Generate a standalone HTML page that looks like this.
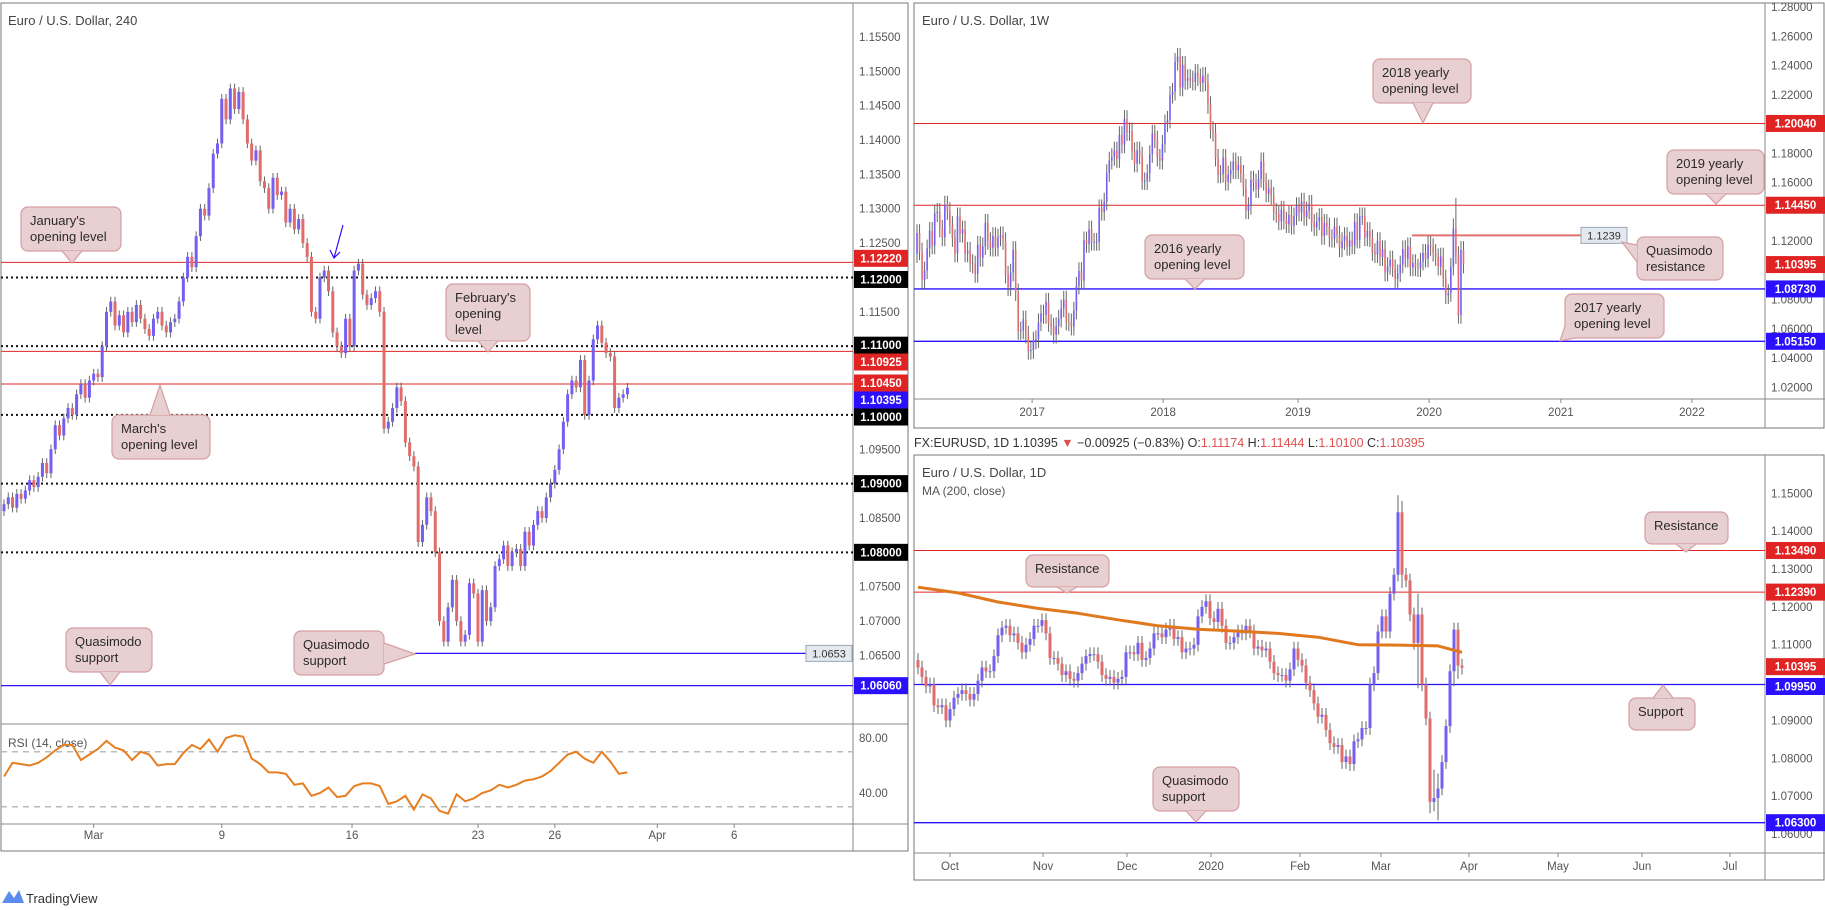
<!DOCTYPE html>
<html><head><meta charset="utf-8"><title>EURUSD charts</title>
<style>
html,body{margin:0;padding:0;background:#fff;}
svg{display:block;font-family:"Liberation Sans","DejaVu Sans",sans-serif;}
</style></head>
<body>
<svg id="chart" width="1825" height="910" viewBox="0 0 1825 910" xmlns="http://www.w3.org/2000/svg">
<rect x="0" y="0" width="1825" height="910" fill="#fff"/>
<defs>
<clipPath id="clipL"><rect x="1" y="3" width="852" height="721"/></clipPath>
<clipPath id="clipR"><rect x="1" y="724" width="852" height="100"/></clipPath>
<clipPath id="clipW"><rect x="914" y="3" width="851" height="396"/></clipPath>
<clipPath id="clipD"><rect x="914" y="455" width="851" height="398"/></clipPath>
</defs>
<g id="frames" fill="none">
<rect x="1" y="3" width="907" height="848" stroke="#777"/>
<line x1="853" y1="3" x2="853" y2="851" stroke="#888"/>
<line x1="1" y1="724" x2="908" y2="724" stroke="#888"/>
<line x1="1" y1="824" x2="908" y2="824" stroke="#888"/>
<rect x="914" y="3" width="910" height="425" stroke="#777"/>
<line x1="1765" y1="3" x2="1765" y2="428" stroke="#888"/>
<line x1="914" y1="399" x2="1825" y2="399" stroke="#888"/>
<rect x="914" y="455" width="910" height="425" stroke="#777"/>
<line x1="1765" y1="455" x2="1765" y2="880" stroke="#888"/>
<line x1="914" y1="853" x2="1825" y2="853" stroke="#888"/>
</g>
<text x="8" y="25" font-size="13" fill="#444">Euro / U.S. Dollar, 240</text>
<text x="8" y="747" font-size="12" fill="#555">RSI (14, close)</text>
<text x="922" y="25" font-size="13" fill="#444">Euro / U.S. Dollar, 1W</text>
<text x="922" y="477" font-size="13" fill="#444">Euro / U.S. Dollar, 1D</text>
<text x="922" y="495" font-size="12" fill="#555">MA (200, close)</text>
<text x="914" y="447" font-size="12.5" fill="#333">FX:EURUSD, 1D 1.10395 <tspan fill="#e05050">▼</tspan> −0.00925 (−0.83%) O:<tspan fill="#e05050">1.11174</tspan> H:<tspan fill="#e05050">1.11444</tspan> L:<tspan fill="#e05050">1.10100</tspan> C:<tspan fill="#e05050">1.10395</tspan></text>
<g>
<path d="M2 903 L9 891 L14 898 L19 890 L24 903 Z" fill="#5b8def"/>
<text x="26" y="903" font-size="13" fill="#333">TradingView</text>
</g>
<g id="gL" clip-path="url(#clipL)"></g>
<g id="gR" clip-path="url(#clipR)"></g>
<g id="gW" clip-path="url(#clipW)"></g>
<g id="gD" clip-path="url(#clipD)"></g>
<g id="gA"></g>
</svg>
<script>
// ---------- data: 4h chart ----------
const h4Closes=[1.0870,1.0880,1.0865,1.0885,1.0878,1.0890,1.0905,1.0895,1.0910,1.0930,1.0915,
1.0950,1.0985,1.0970,1.0995,1.1010,1.1000,1.1030,
1.1045,1.1025,1.1050,1.1060,1.1055,
1.1100,1.1150,1.1165,1.1130,1.1145,
1.1120,1.1150,1.1135,1.1160,1.1140,1.1125,1.1115,1.1140,1.1150,1.1130,1.1120,1.1135,1.1140,
1.1165,1.1200,1.1230,1.1215,1.1260,1.1300,1.1290,1.1330,1.1380,1.1395,1.1460,
1.1430,1.1475,1.1445,1.1470,1.1430,1.1395,
1.1370,1.1385,1.1340,1.1330,1.1300,1.1345,1.1320,1.1325,1.1280,1.1300,1.1270,1.1285,1.1250,
1.1230,1.1150,1.1140,1.1200,1.1210,1.1180,1.1120,1.1100,
1.1090,1.1140,1.1100,1.1210,1.1220,1.1175,1.1160,1.1170,1.1180,1.1150,
1.0980,1.0990,1.1010,1.1040,1.1020,1.0960,1.0940,1.0925,
1.0815,1.0840,1.0880,1.0860,1.0800,1.0700,1.0670,
1.0720,1.0760,1.0700,1.0670,1.0680,1.0755,1.0740,1.0670,1.0745,
1.0700,1.0720,1.0780,1.0790,1.0810,1.0780,1.0800,1.0805,
1.0780,1.0830,1.0810,1.0840,1.0860,1.0850,1.0880,1.0900,
1.0920,1.0950,1.0990,1.1030,1.1050,1.1040,
1.1080,1.1000,1.1050,1.1110,1.1130,1.1105,1.1090,
1.1085,1.1010,1.1025,1.1030,1.10395];
const h4Open0=1.0860;
const rsiValues=[52,62,61,60,62,66,71,75,75,64,68,72,78,73,71,64,70,68,60,61,61,69,75,72,79,70,80,82,81,65,61,55,55,54,46,47,38,40,44,37,38,45,47,47,45,32,34,38,28,39,36,27,25,39,34,36,40,42,46,44,46,49,50,52,56,62,68,70,65,62,70,63,54,55];
const rsiStep=2;
const h4TickLabels=['Mar','9','16','23','26','Apr','6'];
const h4TickBars=[21,51,81.5,111,129,153,171];
const h4Levels=[1.1222,1.1200,1.1100,1.10925,1.1045,1.1000,1.0900,1.0800,1.0606];
const h4LevelKinds=['red','dot','dot','red','red','dot','dot','dot','blue'];
const h4Qm=1.0653;
const h4PriceTicks=[1.155,1.15,1.145,1.14,1.135,1.13,1.125,1.12,1.115,1.11,1.105,1.10,1.095,1.09,1.085,1.08,1.075,1.07,1.065,1.06];
const rsiTicks=[80,40];
const rsiBands=[70,30];

// ---------- data: weekly chart ----------
const wCloses=[1.1255,1.1130,1.0935,1.1000,1.1150,1.1270,1.1170,1.1390,1.1400,1.1285,1.1225,1.1450,1.1405,1.1310,1.1220,1.1115,1.1370,1.1250,1.1280,1.1115,1.1135,1.1050,1.1040,1.0975,1.1175,1.1085,1.1165,1.1325,1.1200,1.1155,1.1235,1.1155,1.1225,1.1240,1.1200,1.0970,1.0885,1.0985,1.1140,1.0850,1.0585,1.0590,1.0665,1.0560,1.0450,1.0455,1.0520,
1.0530,1.0645,1.0705,1.0695,1.0785,1.0640,1.0615,1.0560,1.0620,1.0670,1.0740,1.0800,1.0650,1.0645,1.0615,1.0725,1.0895,1.0995,1.0930,1.1205,1.1180,1.1280,1.1195,1.1195,1.1195,1.1425,1.1400,1.1470,1.1665,1.1750,1.1775,1.1820,1.1760,1.1925,1.1860,1.2035,1.1945,1.1950,1.1815,1.1730,1.1820,1.1785,1.1610,1.1610,1.1665,1.1795,1.1935,1.1895,1.1770,1.1750,1.1865,1.2005,
1.2030,1.2200,1.2220,1.2425,1.2460,1.2250,1.2405,1.2295,1.2315,1.2305,1.2290,1.2350,1.2320,1.2280,1.2330,1.2285,1.2130,1.1960,1.1940,1.1770,1.1655,1.1660,1.1770,1.1605,1.1655,1.1685,1.1745,1.1685,1.1720,1.1660,1.1565,1.1410,1.1440,1.1620,1.1600,1.1555,1.1625,1.1745,1.1605,1.1525,1.1560,1.1510,1.1400,1.1385,1.1335,1.1415,1.1340,1.1315,1.1380,1.1305,1.1370,1.1440,
1.1395,1.1470,1.1365,1.1410,1.1455,1.1325,1.1295,1.1335,1.1365,1.1235,1.1325,1.1300,1.1220,1.1215,1.1300,1.1245,1.1150,1.1200,1.1235,1.1160,1.1205,1.1170,1.1330,1.1210,1.1370,1.1370,1.1225,1.1270,1.1220,1.1125,1.1110,1.1200,1.1090,1.1145,1.0985,1.1030,1.1075,1.1015,1.0940,1.0980,1.1040,1.1145,1.1080,1.1165,1.1020,1.1050,1.1020,1.1015,1.1060,1.1120,1.1080,1.1175,
1.1160,1.1120,1.1090,1.1025,1.1095,1.0945,1.0830,1.0845,1.1025,1.1285,1.1105,1.0695,1.1140,1.10395];
const wOpen0=1.1110;
const wSpikeBars=[212,213,214,215];
const wSpikeHighs=[1.1355,1.1495,1.1150,1.1147];
const wSpikeLows=[1.0980,1.1055,1.0655,1.0636];
const wTickLabels=['2017','2018','2019','2020','2021','2022'];
const wTickWeeks=[45.5,97.3,150.6,202.4,254.5,306.3];
const wLevels=[1.2004,1.1445,1.0873,1.0515];
const wLevelKinds=['red','red','blue','blue'];
const wQm=1.1239;
const wPriceTicks=[1.28,1.26,1.24,1.22,1.20,1.18,1.16,1.14,1.12,1.10,1.08,1.06,1.04,1.02];

// ---------- data: daily chart ----------
const dCloses=[1.1040,1.1015,1.0990,1.0995,1.0940,1.0935,1.0940,1.0900,
1.0930,1.0960,1.0970,1.0980,1.0970,1.0955,1.0970,1.1005,1.1040,1.1030,1.1030,1.1070,1.1125,1.1145,1.1150,1.1125,1.1130,1.1105,1.1080,1.1100,1.1115,1.1150,1.1150,
1.1165,1.1130,1.1065,1.1065,1.1050,1.1020,1.1030,1.1010,1.1005,1.1025,1.1050,1.1070,1.1075,1.1075,1.1055,1.1020,1.1010,1.1015,1.1000,1.1010,1.1015,
1.1080,1.1080,1.1075,1.1105,1.1060,1.1065,1.1090,1.1130,1.1130,1.1120,1.1140,1.1150,1.1115,1.1120,1.1080,1.1090,1.1090,1.1100,1.1175,1.1200,1.1215,
1.1170,1.1160,1.1195,1.1150,1.1105,1.1105,1.1120,1.1135,1.1130,1.1150,1.1135,1.1090,1.1095,1.1085,1.1090,1.1055,1.1025,1.1020,1.1020,1.1005,1.1035,1.1090,
1.1060,1.1045,1.1000,1.0980,1.0945,1.0910,1.0915,1.0875,1.0840,1.0830,1.0835,1.0790,1.0805,1.0785,1.0845,1.0850,1.0880,1.0880,1.0995,1.1025,
1.1135,1.1175,1.1135,1.1235,1.1285,1.1450,1.1285,1.1270,1.1180,1.1105,1.1180,1.0995,1.0905,1.0685,1.0695,1.0720,1.0790,1.0885,1.1030,1.1140,1.1045,1.10395];
const dOpen0=1.1060;
const dSpikeBars=[120,121,125,128,129,130,134,135];
const dSpikeHighs=[1.1495,1.1480,1.1235,1.0905,1.0770,1.0760,1.1150,1.1147];
const dSpikeLows=[1.1280,1.1250,1.0985,1.0655,1.0660,1.0636,1.0990,1.1010];
const maValues=[1.1252,1.1237,1.1213,1.1196,1.1183,1.1166,1.1150,1.1141,1.1136,1.1130,1.1120,1.1100,1.1099,1.1097,1.1080];
const maBars=[0,10,20,30,40,50,60,70,80,90,100,110,120,130,136];
const dTickLabels=['Oct','Nov','Dec','2020','Feb','Mar','Apr','May','Jun','Jul'];
const dTickBars=[8,31.25,52.25,73.25,95.5,115.75,137.75,160,181,203];
const dLevels=[1.1349,1.1239,1.0995,1.0630];
const dLevelKinds=['red','red','blue','blue'];
const dPriceTicks=[1.15,1.14,1.13,1.12,1.11,1.10,1.09,1.08,1.07,1.06];
const lastPrice=1.10395;

// ---------- scales ----------
const yL=p=>71.3+(1.15-p)*6872, xL=i=>4+i*4.27;
const yRsi=v=>738+(80-v)*1.375;
const yW=p=>7+(1.28-p)*1463, xW=i=>917+i*2.53;
const yD=p=>493.3+(1.15-p)*3786, xD=i=>918+i*4;

const NS='http://www.w3.org/2000/svg';
function mk(tag,parent,attrs){const e=document.createElementNS(NS,tag);for(const k in attrs)e.setAttribute(k,attrs[k]);parent.appendChild(e);return e;}
const gL=document.getElementById('gL'),gR=document.getElementById('gR'),gW=document.getElementById('gW'),gD=document.getElementById('gD'),gA=document.getElementById('gA');
const UP='#7360f2',DN='#e06c6c',RED='#e02424',BLUE='#2a10ff';

function candles(g,closes,open0,xf,yf,w,wick,name,sBars,sHi,sLo){
  for(let i=0;i<closes.length;i++){
    const o=i===0?open0:closes[i-1],c=closes[i],x=xf(i);
    let hi=Math.max(o,c)+wick,lo=Math.min(o,c)-wick;
    const si=sBars?sBars.indexOf(i):-1;
    if(si>=0){hi=Math.max(hi,sHi[si]);lo=Math.min(lo,sLo[si]);}
    const ln=mk('line',g,{x1:x,x2:x,y1:yf(hi),y2:yf(lo),stroke:'#666','stroke-width':1});
    
    
    const t=yf(Math.max(o,c)),b=yf(Math.min(o,c));
    const r=mk('rect',g,{x:x-w/2,y:t,width:w,height:Math.max(1,b-t),fill:c>=o?UP:DN});
    
    
  }
}
function level(g,y,x1,x2,kind,name){
  const a={x1:x1,x2:x2,y1:y,y2:y};
  if(kind==='red'){a.stroke=RED;a['stroke-width']=1;}
  else if(kind==='blue'){a.stroke=BLUE;a['stroke-width']=1.3;}
  else {a.stroke='#111';a['stroke-width']=2;a['stroke-dasharray']='2 3';}
  const l=mk('line',g,a);
  
  
}
function box(x,y,w,txt,fill,fg,name){
  const r=mk('rect',gA,{x:x,y:y-8.5,width:w,height:17,fill:fill});
  
  
  const t=mk('text',gA,{x:x+w/2,y:y+4,'font-size':11.5,'font-weight':'bold',fill:fg,'text-anchor':'middle'});
  t.textContent=txt;
  
  
}
function tick(x,y,txt,name,anchor){
  const t=mk('text',gA,{x:x,y:y+4,'font-size':11.5,fill:'#555','text-anchor':anchor||'start'});
  t.textContent=txt;
  
  
}
function callout(x,y,w,h,lines,tip,name){
  const r=mk('rect',gA,{x:x,y:y,width:w,height:h,rx:7,fill:'#e8cfd1',stroke:'#d59fa3','stroke-width':1.2});
  
  
  const p=mk('polygon',gA,{points:`${tip[0]},${tip[1]} ${tip[4]},${tip[5]} ${tip[2]},${tip[3]}`,fill:'#e8cfd1'});
  
  
  const pl=mk('polyline',gA,{points:`${tip[0]},${tip[1]} ${tip[4]},${tip[5]} ${tip[2]},${tip[3]}`,fill:'none',stroke:'#d59fa3','stroke-width':1.2});
  
  
  lines.forEach((s,k)=>{
    const t=mk('text',gA,{x:x+9,y:y+18+k*16,'font-size':13,fill:'#2a2a2a'});
    t.textContent=s;
    
    
  });
}

// ---------- 4h chart ----------
h4Levels.forEach((p,k)=>level(gL,yL(p),1,853,h4LevelKinds[k],'h4-level-'+String(p).replace('.','-')));
level(gL,yL(h4Qm),415,806,'blue','h4-quasimodo-line');
candles(gL,h4Closes,h4Open0,xL,yL,3,0.0007,'h4');
const arr=mk('path',gL,{d:'M343 225 L334 258 M330 250 L334 258 L340 252',stroke:'#2a10ff',fill:'none','stroke-width':1.2});


rsiBands.forEach(v=>{
  const l=mk('line',gR,{x1:1,x2:853,y1:yRsi(v),y2:yRsi(v),stroke:'#bbb','stroke-width':1.5,'stroke-dasharray':'6 5'});
  
  
});
const rpts=rsiValues.map((v,k)=>xL(k*rsiStep).toFixed(1)+','+yRsi(v).toFixed(1)).join(' ');
const rl=mk('polyline',gR,{points:rpts,fill:'none',stroke:'#e67e22','stroke-width':2});


rsiTicks.forEach(v=>tick(859,yRsi(v),v.toFixed(2),'rsi-tick-label'));
const h4Boxes=[[1.1222,'1.12220',RED],[1.12,'1.12000','#000'],[1.11,'1.11000','#000'],[1.10925,'1.10925',RED],[1.1045,'1.10450',RED],[lastPrice,'1.10395',BLUE],[1.10,'1.10000','#000'],[1.09,'1.09000','#000'],[1.08,'1.08000','#000'],[1.0606,'1.06060',BLUE]];
const h4BoxY=[yL(1.1222)-4,yL(1.12)+2,yL(1.11)-1,362,383,400,417,yL(1.09),yL(1.08),yL(1.0606)];
h4PriceTicks.forEach(p=>{
  const y=yL(p);
  if(h4BoxY.some(b=>Math.abs(b-y)<10))return;
  tick(859,y,p.toFixed(5),'h4-price-tick');
});
h4Boxes.forEach((b,k)=>box(854,h4BoxY[k],54,b[1],b[2],'#fff','h4-price-label'));
const qb=mk('rect',gA,{x:806,y:yL(h4Qm)-8,width:46,height:16,fill:'#e4e9f0',stroke:'#9aa6b4'});


const qt=mk('text',gA,{x:829,y:yL(h4Qm)+4,'font-size':11,fill:'#333','text-anchor':'middle'});
qt.textContent='1.0653';


h4TickLabels.forEach((s,k)=>{
  const x=xL(h4TickBars[k]);
  const l=mk('line',gA,{x1:x,x2:x,y1:824,y2:828,stroke:'#888'});
  
  
  tick(x,835,s,'h4-time-label','middle');
});
callout(21,207,100,44,["January's","opening level"],[62,251,82,251,72,263],'january-opening-callout');
callout(446,284,84,57,["February's","opening","level"],[478,341,498,341,488,352],'february-opening-callout');
callout(112,415,98,44,["March's","opening level"],[150,415,170,415,160,385],'march-opening-callout');
callout(66,628,86,44,["Quasimodo","support"],[100,672,120,672,110,685],'quasimodo-support-left-callout');
callout(294,631,90,44,["Quasimodo","support"],[384,643,384,664,415,654],'quasimodo-support-mid-callout');

// ---------- weekly chart ----------
wLevels.forEach((p,k)=>level(gW,yW(p),914,1765,wLevelKinds[k],'weekly-level-'+String(p).replace('.','-')));
const ql=mk('line',gW,{x1:1412,x2:1581,y1:yW(wQm),y2:yW(wQm),stroke:'#e07070','stroke-width':2});


candles(gW,wCloses,wOpen0,xW,yW,1.6,0.006,'weekly',wSpikeBars,wSpikeHighs,wSpikeLows);
const wBoxes=[[1.2004,'1.20040',RED],[1.1445,'1.14450',RED],[lastPrice,'1.10395',RED],[1.0873,'1.08730',BLUE],[1.0515,'1.05150',BLUE]];
wPriceTicks.forEach(p=>{
  const y=yW(p);
  if(wBoxes.some(b=>Math.abs(yW(b[0])-y)<10))return;
  tick(1771,y,p.toFixed(5),'weekly-price-tick');
});
wBoxes.forEach(b=>box(1766,yW(b[0]),59,b[1],b[2],'#fff','weekly-price-label'));
const wqb=mk('rect',gA,{x:1581,y:yW(wQm)-8,width:46,height:16,fill:'#e4e9f0',stroke:'#9aa6b4'});


const wqt=mk('text',gA,{x:1604,y:yW(wQm)+4,'font-size':11,fill:'#333','text-anchor':'middle'});
wqt.textContent='1.1239';


wTickLabels.forEach((s,k)=>{
  const x=xW(wTickWeeks[k]);
  const l=mk('line',gA,{x1:x,x2:x,y1:399,y2:403,stroke:'#888'});
  
  
  tick(x,412,s,'weekly-time-label','middle');
});
callout(1373,59,98,44,['2018 yearly','opening level'],[1413,103,1433,103,1423,123],'yearly-2018-callout');
callout(1667,150,97,44,['2019 yearly','opening level'],[1706,194,1726,194,1716,204],'yearly-2019-callout');
callout(1145,235,99,44,['2016 yearly','opening level'],[1185,279,1205,279,1195,289],'yearly-2016-callout');
callout(1637,237,86,43,['Quasimodo','resistance'],[1637,245,1637,262,1622,242],'quasimodo-resistance-callout');
callout(1565,294,99,44,['2017 yearly','opening level'],[1565,326,1575,338,1560,341],'yearly-2017-callout');

// ---------- daily chart ----------
dLevels.forEach((p,k)=>level(gD,yD(p),914,1765,dLevelKinds[k],'daily-level-'+String(p).replace('.','-')));
const maPts=maValues.map((v,k)=>xD(maBars[k]).toFixed(1)+','+yD(v).toFixed(1)).join(' ');
candles(gD,dCloses,dOpen0,xD,yD,3,0.0018,'daily',dSpikeBars,dSpikeHighs,dSpikeLows);
const ma=mk('polyline',gD,{points:maPts,fill:'none',stroke:'#e0781e','stroke-width':3,'stroke-linejoin':'round'});


const dBoxes=[[1.1349,'1.13490',RED],[1.1239,'1.12390',RED],[lastPrice,'1.10395',RED],[1.0995,'1.09950',BLUE],[1.063,'1.06300',BLUE]];
const dBoxY=[yD(1.1349),yD(1.1239),yD(lastPrice)-1,yD(1.0995)+2,yD(1.063)];
dPriceTicks.forEach(p=>{
  const y=yD(p);
  if(dBoxY.some(b=>Math.abs(b-y)<10))return;
  tick(1771,y,p.toFixed(5),'daily-price-tick');
});
dBoxes.forEach((b,k)=>box(1766,dBoxY[k],59,b[1],b[2],'#fff','daily-price-label'));
dTickLabels.forEach((s,k)=>{
  const x=xD(dTickBars[k]);
  const l=mk('line',gA,{x1:x,x2:x,y1:853,y2:857,stroke:'#888'});
  
  
  tick(x,866,s,'daily-time-label','middle');
});
callout(1645,512,83,32,['Resistance'],[1676,544,1696,544,1686,552],'resistance-upper-callout');
callout(1026,555,83,32,['Resistance'],[1057,587,1077,587,1067,593],'resistance-lower-callout');
callout(1629,698,66,32,['Support'],[1653,698,1673,698,1663,685],'support-callout');
callout(1153,767,86,44,['Quasimodo','support'],[1186,811,1206,811,1196,822],'quasimodo-support-daily-callout');
</script>
</body></html>
